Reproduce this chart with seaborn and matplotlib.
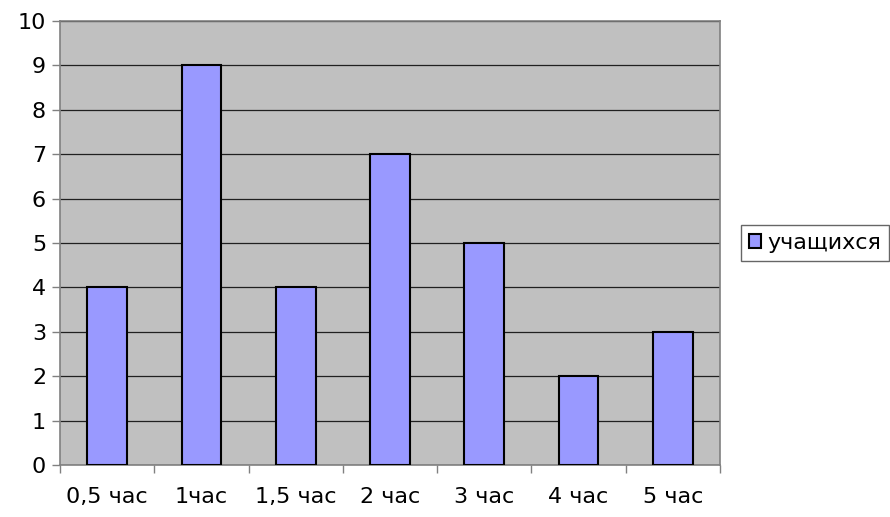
import matplotlib
matplotlib.use("Agg")
import matplotlib.pyplot as plt
import seaborn as sns
import pandas as pd
import numpy as np

categories = ["0,5 час", "1час", "1,5 час", "2 час", "3 час", "4 час", "5 час"]
students = [4, 9, 4, 7, 5, 2, 3]
series_name = "учащихся"

df = pd.DataFrame({"time": categories, "count": students, "series": series_name})

sns.set_theme(style="white")
plt.rcParams["font.family"] = ["DejaVu Sans"]
plt.rcParams["text.color"] = "black"
plt.rcParams["xtick.color"] = "black"
plt.rcParams["ytick.color"] = "black"

fig = plt.figure(figsize=(8.9, 5.17), dpi=100)
ax = fig.add_axes([60 / 890, 1 - 465 / 517, 660 / 890, 444 / 517])
ax.set_facecolor("#C0C0C0")

sns.barplot(data=df, x="time", y="count", hue="series", palette=["#9999FF"],
            saturation=1, width=0.42, edgecolor="black", linewidth=1.5,
            ax=ax, legend=True, zorder=3)

ax.set_ylim(0, 10)
ax.set_xlim(-0.5, len(categories) - 0.5)
ax.set_yticks(range(0, 11))
ax.yaxis.grid(True, color="#202020", linewidth=0.9, zorder=0)
ax.set_axisbelow(True)
ax.set_xlabel("")
ax.set_ylabel("")

# category labels centred, tick marks on category boundaries
ax.set_xticks(range(len(categories)))
ax.set_xticklabels(categories)
ax.set_xticks(np.arange(-0.5, len(categories), 1.0), minor=True)
ax.tick_params(axis="x", which="major", length=0, pad=16, labelsize=16,
               labelcolor="black")
ax.tick_params(axis="x", which="minor", length=6, width=1, color="#808080",
               direction="out", bottom=True)
ax.tick_params(axis="y", which="major", length=6, width=1, color="#808080",
               direction="out", left=True, pad=4, labelsize=16,
               labelcolor="black")

for side in ["left", "bottom", "top", "right"]:
    ax.spines[side].set_color("#808080")
    ax.spines[side].set_linewidth(1.2)

leg = ax.legend(loc="center left", bbox_to_anchor=(741 / 890, 1 - 243 / 517),
                bbox_transform=fig.transFigure, frameon=True, fontsize=16,
                handlelength=0.55, handleheight=0.55, handletextpad=0.3,
                borderpad=0.35, fancybox=False, borderaxespad=0)
leg.get_frame().set_edgecolor("#404040")
leg.get_frame().set_linewidth(1.0)
for t in leg.get_texts():
    t.set_color("black")
for h in leg.legend_handles:
    h.set_edgecolor("black")
    h.set_linewidth(1.5)

fig.savefig("out.png", dpi=100, facecolor="white")
